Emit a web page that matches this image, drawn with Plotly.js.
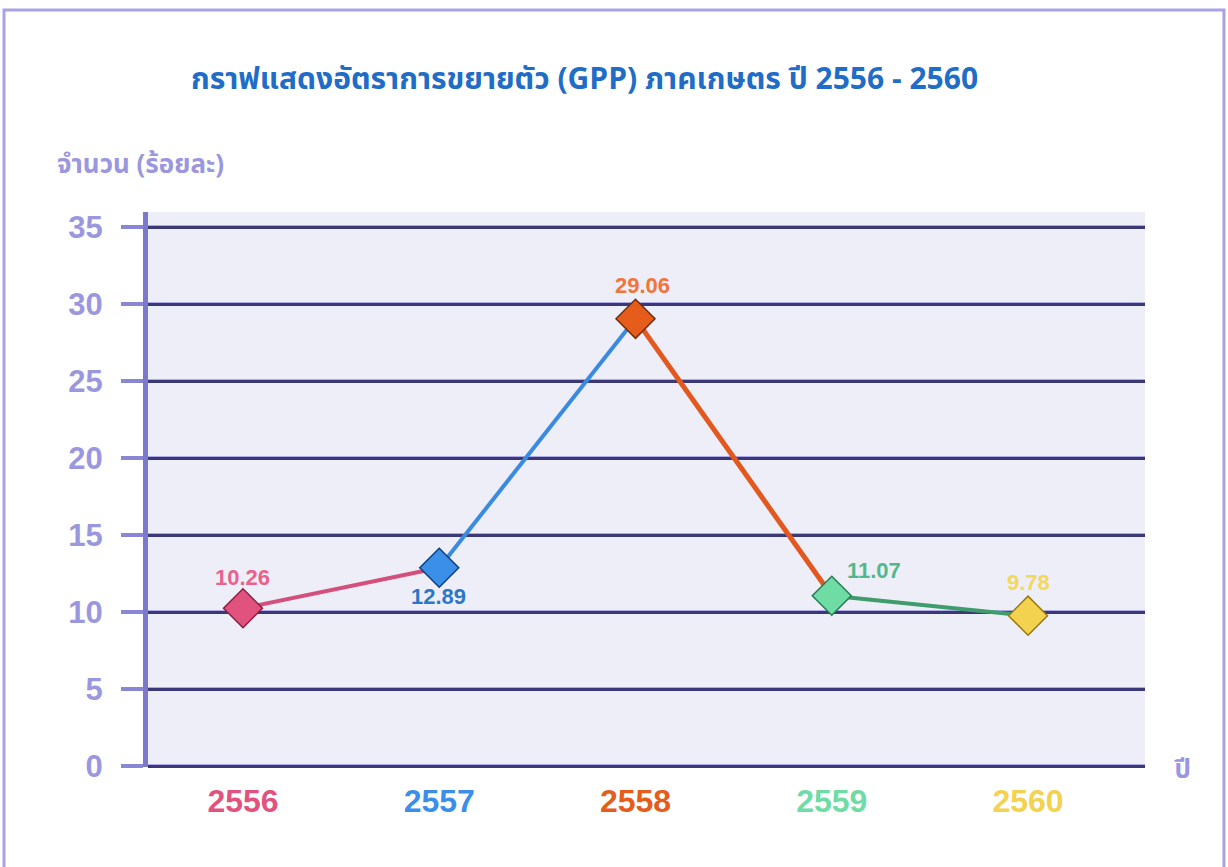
<!DOCTYPE html>
<html>
<head>
<meta charset="utf-8">
<script src="https://cdn.plot.ly/plotly-3.0.1.min.js"></script>
<style>html,body{margin:0;padding:0;background:#fff;}#chart{width:1228px;height:867px;}</style>
</head>
<body>
<div id="chart"></div>
<script>
// ---- data ----
const years = ['2556', '2557', '2558', '2559', '2560'];
const growth = [10.26, 12.89, 29.06, 11.07, 9.78];
const pointColors = ['#e2527f', '#3b8fe8', '#e65c1a', '#6fdca6', '#f2d24e'];
const pointEdge = ['#8a1f44', '#123f7a', '#7a2a06', '#2a7a52', '#9a7a10'];
const segmentColors = ['#d44f7b', '#3a8be0', '#e2581e', '#3f9c6c'];
const labelColors = ['#ea628c', '#2b78c6', '#f2743c', '#52b88a', '#f3d85a'];
const labelShift = [[0, 31], [-1, -29], [7, 33], [42, 25], [0, 33]];
const titleText = 'กราฟแสดงอัตราการขยายตัว (GPP) ภาคเกษตร ปี 2556 - 2560';
const yTitle = 'จำนวน (ร้อยละ)';
const xTitle = 'ปี';
const yTicks = [0, 5, 10, 15, 20, 25, 30, 35];

const xs = years.map((_, i) => i);
const traces = [];
// invisible trace on the overlay axis that carries the light grid highlight
traces.push({x: [0], y: [0], yaxis: 'y2', mode: 'markers', marker: {opacity: 0}, hoverinfo: 'skip', showlegend: false});
for (let i = 0; i < years.length - 1; i++) {
  traces.push({
    x: [xs[i], xs[i + 1]], y: [growth[i], growth[i + 1]],
    type: 'scatter', mode: 'lines', hoverinfo: 'skip', showlegend: false,
    line: {color: segmentColors[i], width: i === 2 ? 5 : 4}
  });
}
traces.push({
  x: xs, y: growth, type: 'scatter', mode: 'markers', showlegend: false,
  marker: {symbol: 'diamond', size: 30, color: pointColors, line: {color: pointEdge, width: 1.5}}
});

const thaiFont = 'Noto Sans Thai, Noto Sans, Liberation Sans, sans-serif';
const annotations = growth.map((v, i) => ({
  x: xs[i], y: v, xref: 'x', yref: 'y', text: v.toFixed(2), showarrow: false,
  xshift: labelShift[i][0], yshift: labelShift[i][1],
  font: {family: 'Liberation Sans, Arial, sans-serif', size: 22, color: labelColors[i], weight: 'bold'}
}));
annotations.push({
  xref: 'paper', yref: 'paper', x: -0.0933, y: 1.085, xanchor: 'left', yanchor: 'middle',
  text: yTitle, showarrow: false,
  font: {family: thaiFont, size: 26, color: '#9b97df', weight: 'bold'}
});
annotations.push({
  xref: 'paper', yref: 'paper', x: 1.038, y: -0.005, xanchor: 'center', yanchor: 'middle',
  text: xTitle, showarrow: false,
  font: {family: thaiFont, size: 26, color: '#9b97df', weight: 'bold'}
});

const layout = {
  width: 1228, height: 867,
  margin: {l: 148, r: 83, t: 212, b: 100},
  paper_bgcolor: '#ffffff', plot_bgcolor: '#eeeef8',
  title: {
    text: titleText, x: 0.476, xref: 'container', xanchor: 'center',
    y: 1 - 78 / 867, yref: 'container', yanchor: 'middle',
    font: {family: thaiFont, size: 30, color: '#1f6dc6', weight: 'bold'}
  },
  xaxis: {
    range: [-0.484, 4.596], tickvals: xs,
    ticktext: years.map((y, i) => '<span style="color:' + pointColors[i] + '">' + y + '</span>'),
    showgrid: false, zeroline: false, showline: false,
    ticks: 'outside', ticklen: 6, tickcolor: 'rgba(0,0,0,0)',
    tickfont: {family: 'Liberation Sans, Arial, sans-serif', size: 32, weight: 'bold'}
  },
  yaxis: {
    range: [-0.05, 36], tickvals: yTicks,
    showgrid: true, gridcolor: '#3a3876', gridwidth: 4,
    zeroline: true, zerolinecolor: '#3a3876', zerolinewidth: 4,
    showline: true, linecolor: '#7c79cc', linewidth: 5,
    ticks: 'outside', ticklen: 22, tickwidth: 4, tickcolor: '#8a86d6',
    ticklabelstandoff: 12,
    tickfont: {family: 'Liberation Sans, Arial, sans-serif', size: 31, color: '#9b97df', weight: 'bold'}
  },
  yaxis2: {
    overlaying: 'y', range: [-0.17, 35.88], tickvals: yTicks,
    showgrid: true, gridcolor: '#aeaae8', gridwidth: 1.5,
    zeroline: true, zerolinecolor: '#aeaae8', zerolinewidth: 1.5,
    showticklabels: false, showline: false, ticks: ''
  },
  annotations: annotations,
  shapes: [{
    type: 'rect', xref: 'paper', yref: 'paper', x0: -0.1444, x1: 1.0792, y0: -0.19, y1: 1.364,
    line: {color: '#a7a3e5', width: 3}, fillcolor: 'rgba(0,0,0,0)', layer: 'below'
  }]
};

Plotly.newPlot('chart', traces, layout, {displayModeBar: false, staticPlot: true});
</script>
</body>
</html>
